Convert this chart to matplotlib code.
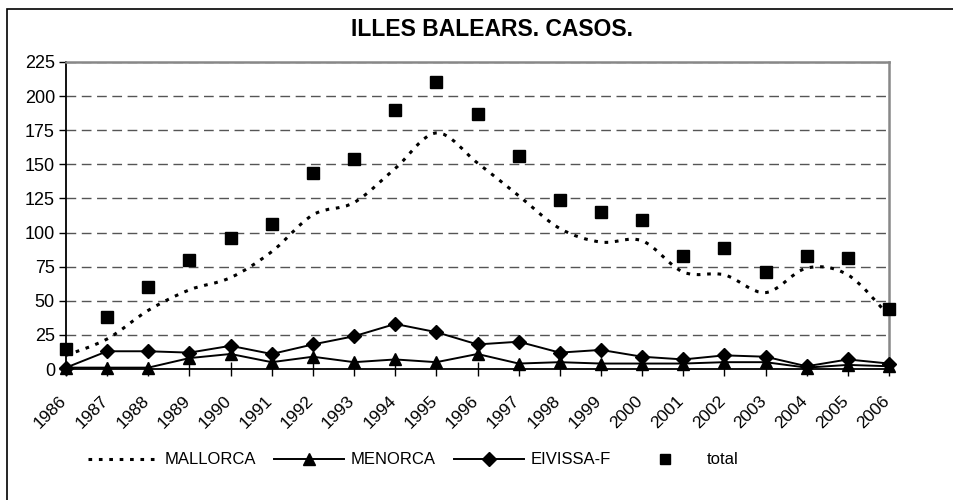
import numpy as np
import matplotlib
matplotlib.use("Agg")
import matplotlib.pyplot as plt
import matplotlib.transforms as mtransforms
from matplotlib.path import Path
from matplotlib.patches import PathPatch, Rectangle
from matplotlib.lines import Line2D

plt.rcParams['font.family'] = ['Liberation Sans', 'DejaVu Sans']

years = list(range(1986, 2007))
mallorca = [10, 22, 43, 58, 67, 86, 113, 122, 147, 173, 151, 127, 103, 93, 94, 71, 69, 56, 74, 69, 39]
menorca = [1, 1, 1, 8, 11, 5, 9, 5, 7, 5, 11, 4, 5, 4, 4, 4, 5, 5, 1, 3, 2]
eivissa = [1, 13, 13, 12, 17, 11, 18, 24, 33, 27, 18, 20, 12, 14, 9, 7, 10, 9, 2, 7, 4]
total = [15, 38, 60, 80, 96, 106, 144, 154, 190, 210, 187, 156, 124, 115, 109, 83, 89, 71, 83, 81, 44]
yticks = list(range(0, 226, 25))


def smooth_path(x, y):
    # Catmull-Rom through the points, written as cubic Bezier segments
    x = np.asarray(x, float); y = np.asarray(y, float)
    pts = np.column_stack([x, y])
    p = np.vstack([pts[0], pts, pts[-1]])
    verts = [pts[0]]; codes = [Path.MOVETO]
    for i in range(1, len(p) - 2):
        c1 = p[i] + (p[i + 1] - p[i - 1]) / 6
        c2 = p[i + 1] - (p[i + 2] - p[i]) / 6
        verts += [c1, c2, p[i + 1]]
        codes += [Path.CURVE4] * 3
    return Path(verts, codes)


fig = plt.figure(figsize=(9.54, 5.0), dpi=100)
ax = fig.add_axes([66 / 954, 1 - 369 / 500, (889 - 66) / 954, (369 - 62) / 500])

ax.yaxis.grid(True, color="#555555", linestyle=(0, (7, 4)), lw=1)
ax.set_axisbelow(True)

patch = PathPatch(smooth_path(years, mallorca), fill=False, edgecolor="black",
                  lw=2.2, linestyle=(0, (1.2, 2.2)), zorder=3)
ax.add_patch(patch)
ax.plot(years, menorca, color="black", lw=1.4, marker="^", ms=8, zorder=4, clip_on=False)
ax.plot(years, eivissa, color="black", lw=1.4, marker="D", ms=7, zorder=4, clip_on=False)
ax.plot(years, total, ls="none", color="black", marker="s", ms=8, zorder=5, clip_on=False)

ax.set_xlim(1986, 2006)
ax.set_ylim(0, 225)
ax.set_yticks(yticks)
ax.set_xticks(years)
ax.set_xticklabels([str(y) for y in years], rotation=45, ha="right", va="top",
                   rotation_mode="anchor")
ax.tick_params(axis="x", direction="inout", length=10, width=1, labelsize=12.5, pad=10)
ax.tick_params(axis="y", direction="out", length=5, width=1, labelsize=13, pad=3)
shift = mtransforms.ScaledTranslation(-7 / 100, -3 / 100, fig.dpi_scale_trans)
for lab in ax.get_xticklabels():
    lab.set_transform(lab.get_transform() + shift)

for s in ("left", "bottom"):
    ax.spines[s].set_color("black"); ax.spines[s].set_linewidth(1.3)
for s in ("top", "right"):
    ax.spines[s].set_color("#888888"); ax.spines[s].set_linewidth(1.8)

fig.text(492 / 954, 1 - 30 / 500, "ILLES BALEARS. CASOS.", ha="center", va="center",
         fontsize=16.5, fontweight="bold")

handles = [
    Line2D([], [], color="black", lw=2.2, linestyle=(0, (1.2, 2.2))),
    Line2D([], [], color="black", lw=1.4, marker="^", ms=8),
    Line2D([], [], color="black", lw=1.4, marker="D", ms=7),
    Line2D([], [], ls="none", color="black", marker="s", ms=7),
]
fig.legend(handles, ["MALLORCA", "MENORCA", "EIVISSA-F", "total"], loc="center",
           bbox_to_anchor=(413 / 954, 1 - 460 / 500), ncol=4, frameon=False, fontsize=12,
           handlelength=4.2, columnspacing=1.1, handletextpad=0.4, markerscale=1)

fig.add_artist(Rectangle((7 / 954, -0.1), 1.2, 1.1 - 9 / 500, transform=fig.transFigure,
                         fill=False, edgecolor="black", lw=1.2, clip_on=False))

fig.savefig("out.png", dpi=100)
